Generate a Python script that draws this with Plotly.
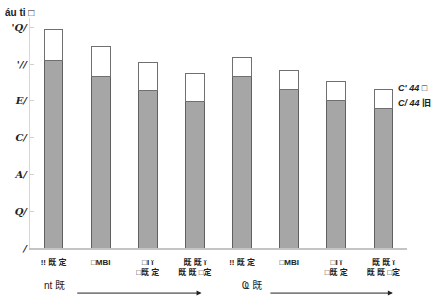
import plotly.graph_objects as go

categories = ["!! 既 定", "□MBI", "□I ï<br>□既 定", "既 既 ï<br>既 既 □定",
              "!! 既 定", "□MBI", "□I ï<br>□既 定", "既 既 ï<br>既 既 □定"]
lower_vals = [102, 93, 85.5, 79.5, 93, 86, 80, 76]
upper_vals = [17, 16.5, 15.5, 15.5, 10.5, 10.5, 10.5, 10.3]
tick_vals = [0, 20, 40, 60, 80, 100, 120]
tick_text = ["/", "Q/", "A/", "C/", "E/", "'//", "'Q/"]
series_names = ["C/ 44 旧", "C' 44 □"]
group_labels = ["nt 既", "Ҩ 既"]

xs = list(range(len(categories)))
font_fam = "Liberation Sans, Noto Sans CJK SC, sans-serif"

fig = go.Figure()
fig.add_trace(go.Bar(x=xs, y=lower_vals, width=0.4, name=series_names[0],
                     marker=dict(color="#a6a6a6", line=dict(color="#606060", width=1))))
fig.add_trace(go.Bar(x=xs, y=upper_vals, width=0.4, name=series_names[1],
                     marker=dict(color="#ffffff", line=dict(color="#707070", width=1))))

fig.update_layout(
    barmode="stack", width=437, height=306,
    margin=dict(l=27, r=30, t=18, b=58),
    paper_bgcolor="white", plot_bgcolor="white",
    showlegend=False,
    font=dict(family=font_fam, size=9, color="#222"),
    xaxis=dict(range=[-0.5, 7.5], tickvals=xs,
               ticktext=["<b>" + c + "</b>" for c in categories],
               showline=True, linecolor="#c4c4c4", linewidth=2, ticks="",
               ticklabelstandoff=5,
               showgrid=False, zeroline=False, tickfont=dict(size=8)),
    yaxis=dict(range=[0, 125], tickvals=tick_vals,
               ticktext=["<b><i>" + t + "</i></b>" for t in tick_text],
               showline=True, linecolor="#d8d8d8", linewidth=1,
               ticks="inside", ticklen=4, tickcolor="#d0d0d0",
               showgrid=False, zeroline=False,
               tickfont=dict(size=10, family="DejaVu Serif", color="#222")),
)

# unit label top-left
fig.add_annotation(text="<b>áu ti □</b>", xref="paper", yref="paper",
                   x=-0.071, y=1.025, xanchor="left", yanchor="middle",
                   showarrow=False, font=dict(size=10))

# series labels at right
fig.add_annotation(text="<b><i>C' 44</i> □</b>", xref="paper", yref="y",
                   x=0.97, y=upper_vals[-1] + lower_vals[-1] + 0.5,
                   xanchor="left", showarrow=False, font=dict(size=9))
fig.add_annotation(text="<b><i>C/ 44</i> 旧</b>", xref="paper", yref="y",
                   x=0.97, y=lower_vals[-1] + 3,
                   xanchor="left", showarrow=False, font=dict(size=9))

# group labels and arrows
for lbl, x0, xl, x1 in [(group_labels[0], 0.03, 0.47, 3.14),
                        (group_labels[1], 4.22, 4.57, 7.2)]:
    fig.add_annotation(text=lbl, xref="x", yref="paper", x=x0, y=-0.196,
                       xanchor="center", showarrow=False, font=dict(size=10))
    fig.add_annotation(text="", xref="x", yref="paper", x=x1, y=-0.196,
                       axref="x", ayref="pixel", ax=xl, ay=0,
                       showarrow=True, arrowhead=2, arrowsize=1, arrowwidth=1,
                       arrowcolor="#222")

fig.write_html("out.html")
